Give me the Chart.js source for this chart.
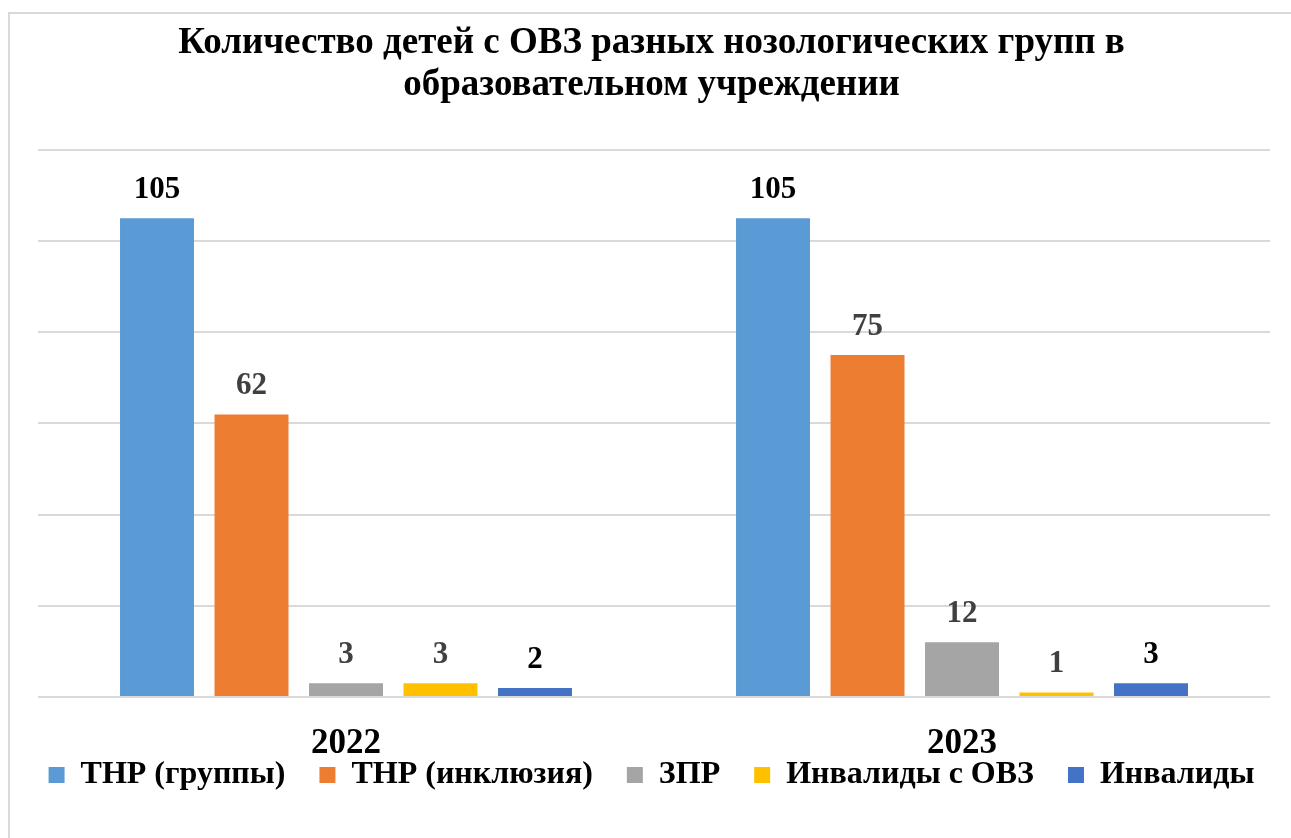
<!DOCTYPE html>
<html lang="ru">
<head>
<meta charset="utf-8">
<title>Количество детей с ОВЗ</title>
<script src="https://cdn.jsdelivr.net/npm/chart.js@4.4.1/dist/chart.umd.min.js"></script>
<style>
  html, body { margin: 0; padding: 0; background: #fff; overflow: hidden; }
  #wrap { position: absolute; left: 8px; top: 12px; border: 2px solid #d9d9d9; width: 1283px; height: 824px; }
  canvas { display: block; }
</style>
</head>
<body>
<div id="wrap"><canvas id="c" width="1283" height="824"></canvas></div>
<script>
// ---- data ----
const years = ['2022', '2023'];
const seriesNames = ['ТНР (группы)', 'ТНР (инклюзия)', 'ЗПР', 'Инвалиды с ОВЗ', 'Инвалиды'];
const thrGroups    = [105, 105];
const thrInclusion = [62, 75];
const zpr          = [3, 12];
const invOvz       = [3, 1];
const invalids     = [2, 3];
const titleLines   = ['Количество детей с ОВЗ разных нозологических групп в', 'образовательном учреждении'];

const COLORS = ['#5B9BD5', '#ED7D31', '#A5A5A5', '#FFC000', '#4472C4'];
const LABEL_COLORS = ['#000000', '#404040', '#404040', '#404040', '#000000'];
const FONT = '"Liberation Serif", "Times New Roman", serif';

// value labels above each bar
const barLabels = {
  id: 'barLabels',
  afterDatasetsDraw(chart) {
    const ctx = chart.ctx;
    ctx.save();
    ctx.font = 'bold 31px ' + FONT;
    ctx.textAlign = 'center';
    ctx.textBaseline = 'middle';
    chart.data.datasets.forEach((ds, i) => {
      const meta = chart.getDatasetMeta(i);
      ctx.fillStyle = LABEL_COLORS[i];
      meta.data.forEach((bar, j) => {
        ctx.fillText(String(ds.data[j]), bar.x, bar.y - 28);
      });
    });
    ctx.restore();
  }
};

// legend sits tight under the year labels, so pull it up a bit
const LEGEND_LIFT = 36;
const liftLegend = {
  id: 'liftLegend',
  afterLayout(chart) {
    if (!chart.legend) return;
    chart.legend.top -= LEGEND_LIFT;
    chart.legend.bottom -= LEGEND_LIFT;
  }
};

const allSeries = [thrGroups, thrInclusion, zpr, invOvz, invalids];

new Chart(document.getElementById('c'), {
  type: 'bar',
  data: {
    labels: years,
    datasets: allSeries.map((d, i) => ({
      label: seriesNames[i],
      data: d,
      backgroundColor: COLORS[i],
      borderWidth: 0,
      categoryPercentage: 0.767,
      barPercentage: 0.783
    }))
  },
  options: {
    responsive: false, animation: false,
    layout: { padding: { top: 0, left: 0, right: 0, bottom: 1 } },
    scales: {
      x: {
        grid: { display: false },
        border: { display: false },
        ticks: { color: '#000', padding: 18, font: { family: FONT, size: 35, weight: 'bold', lineHeight: 1.2 } },
        afterFit: s => { s.height = 64; }
      },
      y: {
        min: 0, max: 120,
        ticks: { display: false, stepSize: 20 },
        grid: { color: '#d9d9d9', lineWidth: 2, drawTicks: false },
        border: { display: false },
        afterFit: s => { s.width = 28; }
      },
      yR: {
        position: 'right',
        ticks: { display: false },
        grid: { display: false, drawTicks: false },
        border: { display: false },
        afterFit: s => { s.width = 23; }
      }
    },
    plugins: {
      title: {
        display: true, text: titleLines, color: '#000',
        font: { family: FONT, size: 37, weight: 'bold', lineHeight: 1.135 },
        padding: { top: 8, bottom: 44 }
      },
      legend: {
        position: 'bottom',
        labels: {
          color: '#000', boxWidth: 16, boxHeight: 16, padding: 34,
          font: { family: FONT, size: 32, weight: 'bold' }
        }
      },
      tooltip: { enabled: false }
    }
  },
  plugins: [barLabels, liftLegend]
});
</script>
</body>
</html>
